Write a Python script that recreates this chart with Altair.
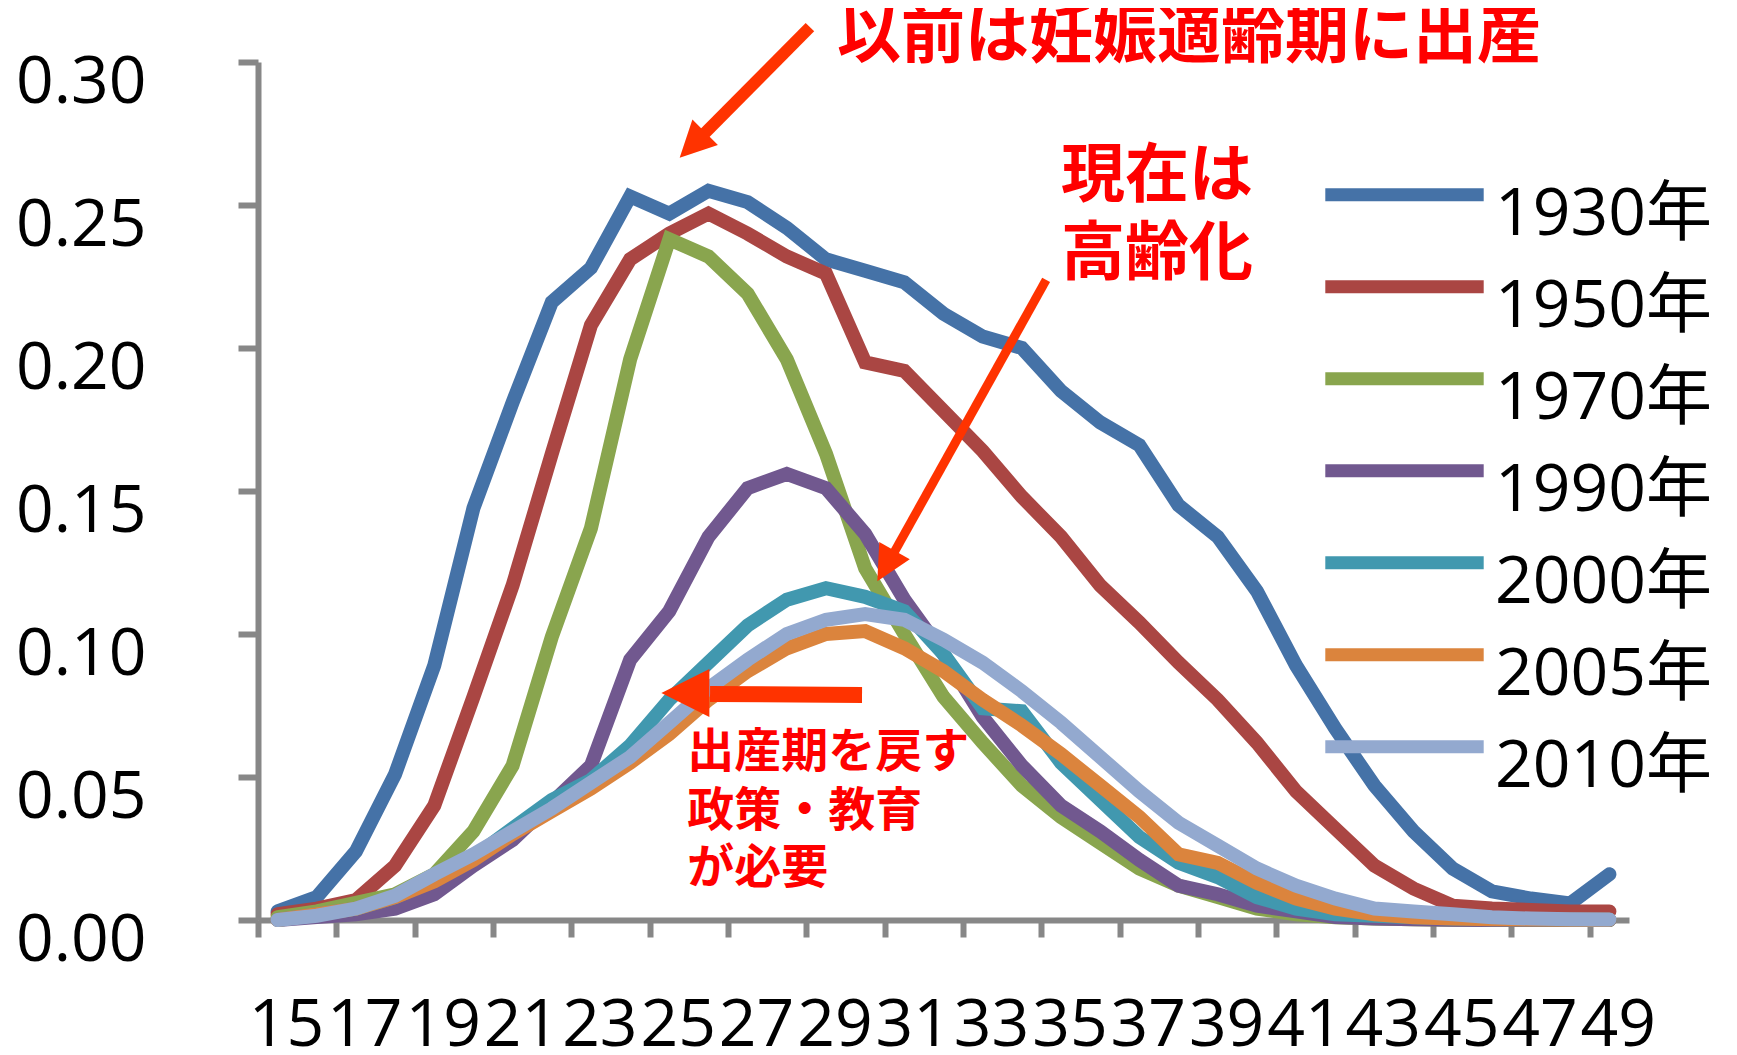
import altair as alt
import pandas as pd

ages = list(range(15, 50))
series_names = ["1930年", "1950年", "1970年", "1990年", "2000年", "2005年", "2010年"]
colors = ["#4572A7", "#AA4643", "#89A54E", "#71588F", "#4198AF", "#DB843D", "#93A9CF"]

y1930 = [0.003, 0.008, 0.024, 0.051, 0.089, 0.144, 0.181, 0.216, 0.228, 0.253,
         0.247, 0.255, 0.251, 0.242, 0.231, 0.227, 0.223, 0.212, 0.204, 0.200,
         0.185, 0.174, 0.166, 0.145, 0.134, 0.115, 0.089, 0.067, 0.047, 0.031,
         0.018, 0.010, 0.0075, 0.0058, 0.016]
y1950 = [0.002, 0.004, 0.007, 0.019, 0.040, 0.078, 0.117, 0.163, 0.208, 0.231,
         0.240, 0.247, 0.240, 0.232, 0.226, 0.195, 0.192, 0.178, 0.164, 0.148,
         0.134, 0.117, 0.104, 0.090, 0.077, 0.062, 0.045, 0.032, 0.019, 0.011,
         0.005, 0.004, 0.0035, 0.003, 0.003]
y1970 = [0.001, 0.003, 0.006, 0.009, 0.016, 0.031, 0.054, 0.099, 0.137, 0.196,
         0.238, 0.232, 0.219, 0.196, 0.163, 0.123, 0.100, 0.078, 0.062, 0.047,
         0.036, 0.027, 0.018, 0.012, 0.008, 0.004, 0.002, 0.001, 0.0005, 0.0003,
         0.0001, 0.0, 0.0, 0.0, 0.0]
y1990 = [0.0, 0.001, 0.002, 0.004, 0.009, 0.019, 0.028, 0.041, 0.054, 0.091,
         0.108, 0.134, 0.151, 0.156, 0.151, 0.135, 0.112, 0.093, 0.071, 0.054,
         0.040, 0.031, 0.021, 0.012, 0.009, 0.005, 0.003, 0.001, 0.0005, 0.0003,
         0.0001, 0.0, 0.0, 0.0, 0.0]
y2000 = [0.0, 0.002, 0.004, 0.008, 0.014, 0.022, 0.032, 0.042, 0.049, 0.061,
         0.077, 0.090, 0.103, 0.112, 0.116, 0.113, 0.108, 0.093, 0.074, 0.073,
         0.055, 0.042, 0.029, 0.020, 0.015, 0.008, 0.004, 0.002, 0.0015, 0.001,
         0.0005, 0.0003, 0.0002, 0.0001, 0.0001]
y2005 = [0.0, 0.002, 0.004, 0.008, 0.0135, 0.021, 0.030, 0.038, 0.046, 0.055,
         0.065, 0.077, 0.087, 0.095, 0.100, 0.101, 0.095, 0.087, 0.077, 0.068,
         0.058, 0.047, 0.036, 0.023, 0.020, 0.013, 0.0075, 0.004, 0.002, 0.001,
         0.0005, 0.0003, 0.0002, 0.0001, 0.0001]
y2010 = [0.0, 0.0015, 0.004, 0.0085, 0.016, 0.023, 0.031, 0.039, 0.048, 0.057,
         0.069, 0.081, 0.091, 0.100, 0.105, 0.107, 0.105, 0.098, 0.090, 0.080,
         0.069, 0.057, 0.045, 0.034, 0.026, 0.018, 0.012, 0.0075, 0.004, 0.003,
         0.002, 0.001, 0.0005, 0.0003, 0.0002]

all_series = [y1930, y1950, y1970, y1990, y2000, y2005, y2010]

rows = []
for name, vals in zip(series_names, all_series):
    for a, v in zip(ages, vals):
        rows.append({"age": a, "rate": v, "year": name})
df = pd.DataFrame(rows)

# annotation texts (data coordinates)
big_texts = ["以前は妊娠適齢期に出産", "現在は", "高齢化"]
big_x = [29.28, 35.0, 35.0]
big_y = [0.3084, 0.2598, 0.2325]
small_texts = ["出産期を戻す", "政策・教育", "が必要"]
small_x = [25.46, 25.46, 25.46]
small_y = [0.0584, 0.0378, 0.0178]

# arrows (data coordinates)
shaft_x = [28.59, 34.62, 29.92]
shaft_y = [0.3122, 0.2238, 0.0787]
shaft_x2 = [25.91, 30.75, 26.04]
shaft_y2 = [0.2752, 0.1288, 0.0790]
shaft_w = [12, 9, 16]
head_x = [25.59, 30.53, 25.41]
head_y = [0.2710, 0.1238, 0.0794]
head_angle = [225, 209.4, 270]
head_size = [36 * 36, 35 * 35, 48 * 48]

x_scale = alt.Scale(domain=[14.5, 49.5], nice=False, zero=False)
y_scale = alt.Scale(domain=[0, 0.30], nice=False, zero=True)

# tick marks sit between the age categories; label every other category
tick_values = [14.5 + i for i in range(36)]

x_axis = alt.Axis(
    values=tick_values,
    labelExpr="(datum.value + 0.5) % 2 === 1 && datum.value < 49 ? format(datum.value + 0.5, 'd') : ''",
    tickSize=17,
    labelPadding=56,
    labelOffset=28,
    labelFlush=False,
    labelOverlap=False,
    labelAngle=0,
    title=None,
)
y_axis = alt.Axis(
    values=[0, 0.05, 0.10, 0.15, 0.20, 0.25, 0.30],
    format=".2f",
    tickSize=20,
    labelPadding=92,
    labelOffset=20,
    title=None,
)

lines = alt.Chart(df).mark_line(strokeWidth=14, strokeCap="round").encode(
    x=alt.X("age:Q", scale=x_scale, axis=x_axis),
    y=alt.Y("rate:Q", scale=y_scale, axis=y_axis),
    color=alt.Color(
        "year:N",
        scale=alt.Scale(domain=series_names, range=colors),
        legend=alt.Legend(
            title=None,
            orient="none",
            legendX=1107,
            legendY=113,
            direction="vertical",
            symbolType="M-2.4,-0.6H2.4",
            symbolSize=4356,
            symbolStrokeWidth=13,
            labelFontSize=66,
            labelFont="Open Sans, Noto Sans CJK JP",
            labelColor="black",
            labelOffset=51,
            rowPadding=12,
            labelLimit=1000,
            padding=0,
        ),
    ),
    order=alt.Order("age:Q"),
)

big_df = pd.DataFrame({"t": big_texts, "x": big_x, "y": big_y})
small_df = pd.DataFrame({"t": small_texts, "x": small_x, "y": small_y})
shaft_df = pd.DataFrame({"x": shaft_x, "y": shaft_y, "x2": shaft_x2, "y2": shaft_y2, "w": shaft_w})
head_df = pd.DataFrame({"x": head_x, "y": head_y, "a": head_angle, "s": head_size})

big_txt = alt.Chart(big_df).mark_text(
    align="left", baseline="middle", font="Noto Sans CJK JP", fontWeight="bold",
    fontSize=64, color="#FF0000"
).encode(x=alt.X("x:Q", scale=x_scale), y=alt.Y("y:Q", scale=y_scale), text="t:N")

small_txt = alt.Chart(small_df).mark_text(
    align="left", baseline="middle", font="Noto Sans CJK JP", fontWeight="bold",
    fontSize=47, color="#FF0000"
).encode(x=alt.X("x:Q", scale=x_scale), y=alt.Y("y:Q", scale=y_scale), text="t:N")

shafts = alt.Chart(shaft_df).mark_rule(color="#FF3300").encode(
    x=alt.X("x:Q", scale=x_scale), y=alt.Y("y:Q", scale=y_scale),
    x2="x2:Q", y2="y2:Q",
    strokeWidth=alt.StrokeWidth("w:Q", scale=None, legend=None),
)

heads = alt.Chart(head_df).mark_point(
    shape="M0,-1L1,1L-1,1Z", filled=True, color="#FF3300", opacity=1, strokeWidth=0
).encode(
    x=alt.X("x:Q", scale=x_scale), y=alt.Y("y:Q", scale=y_scale),
    angle=alt.Angle("a:Q", scale=None),
    size=alt.Size("s:Q", scale=None, legend=None),
)

chart = alt.layer(lines, big_txt, small_txt, shafts, heads).properties(
    width=1371,
    height=858,
    padding={"left": 250, "top": 54, "right": 100, "bottom": 127},
    autosize=alt.AutoSizeParams(type="none"),
    background="white",
).configure_view(stroke=None).configure_axis(
    grid=False,
    domainColor="#878787",
    tickColor="#878787",
    domainWidth=6,
    tickWidth=6,
    labelColor="black",
    labelFont="Open Sans",
    labelFontSize=66,
)

chart.save("out.html", embed_options={"renderer": "svg", "actions": False})
